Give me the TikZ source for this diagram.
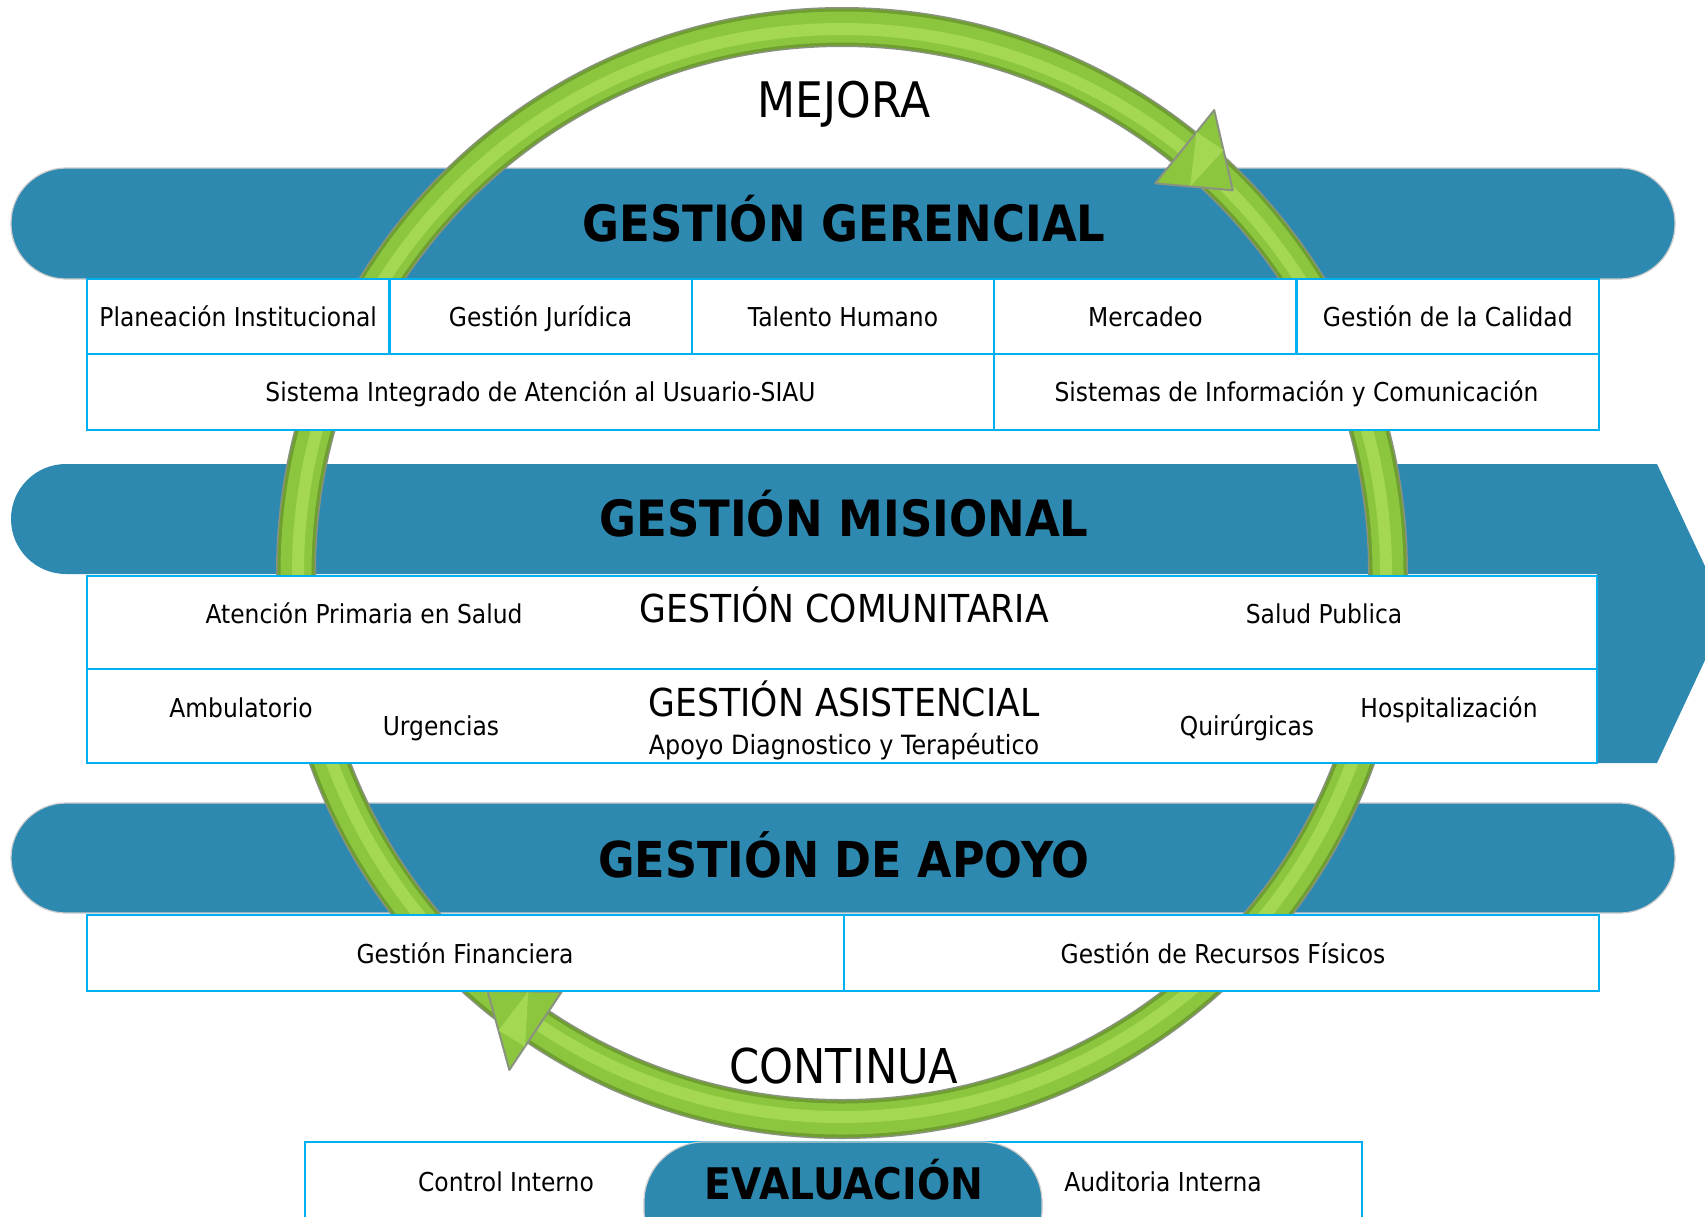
\documentclass[tikz,border=0pt]{standalone}
\usepackage{fontspec}
\setmainfont{DejaVu Sans}[FakeStretch=0.9]
\usetikzlibrary{calc}
\definecolor{bandblue}{HTML}{2E89B1}
\definecolor{linecyan}{HTML}{00B0F0}
\definecolor{ringgreen}{HTML}{8CC63F}
\definecolor{ringlight}{HTML}{A4D852}
\definecolor{ringdark}{HTML}{6F9F30}
\definecolor{ringedge}{HTML}{8A9280}
\begin{document}
\begin{tikzpicture}[x=1pt,y=-1pt,
  band/.style={fill=bandblue, draw=gray!40, line width=1.2pt},
  cellbox/.style={fill=white, draw=linecyan, line width=2.5pt},
  small/.style={font=\fontsize{26}{30}\selectfont, anchor=base, inner sep=0pt},
  title/.style={font=\fontsize{50}{56}\selectfont\bfseries, anchor=base, inner sep=0pt},
  big/.style={font=\fontsize{48}{54}\selectfont, anchor=base, inner sep=0pt},
  mid/.style={font=\fontsize{38.5}{42}\selectfont, anchor=base, inner sep=0pt},
  ahead/.style={fill=ringgreen, draw=ringedge, line width=2pt, line join=round},
  ahigh/.style={fill=ringlight}]
\useasboundingbox (0,0) rectangle (1705,1216);
\fill[white] (0,0) rectangle (1705,1216);
% bands
\draw[band, rounded corners=55] (11,168) rectangle (1675,279);
\fill[bandblue] (1657,464) -- (1727,613) -- (1657,763) -- (1597,763) -- (1597,574) -- (300,574) [rounded corners=55] -- (11,574) -- (11,464) -- (300,464) [sharp corners] -- cycle;
\draw[band, rounded corners=55] (11,803) rectangle (1675,913);
% ring
\coordinate (c) at (842,573);
\draw[ringedge, line width=40pt] (c) circle[radius=546pt];
\draw[ringdark, line width=37pt] (c) circle[radius=546pt];
\draw[ringgreen, line width=31pt] (c) circle[radius=546pt];
\draw[ringlight, line width=12pt] (c) circle[radius=544pt];
% arrowheads
\coordinate (ta) at ($(c)+(-51.2:594)$);
\coordinate (tb) at ($(c)+(-51.2:500)$);
\coordinate (tt) at ($(c)+(-44.4:547)$);
\draw[ahead] (ta) -- (tb) -- (tt) -- cycle;
\fill[ahigh] ($(ta)!0.5!(tt)$) -- ($(ta)!0.3!(tb)$) -- ($(tb)!0.45!(tt)$) -- cycle;
\coordinate (ba) at ($(c)+(-236.2:598)$);
\coordinate (bb) at ($(c)+(-236.2:504)$);
\coordinate (bt) at ($(c)+(-229.7:548)$);
\draw[ahead] (ba) -- (bb) -- (bt) -- cycle;
\fill[ahigh] ($(ba)!0.5!(bt)$) -- ($(ba)!0.3!(bb)$) -- ($(bb)!0.45!(bt)$) -- cycle;
% gerencial table
\foreach \i in {0,...,4}{\draw[cellbox] ({87+302.4*\i},279) rectangle ++(302.4,75);}
\draw[cellbox] (87,354) rectangle (994,430);
\draw[cellbox] (994,354) rectangle (1599,430);
% misional table
\draw[cellbox] (87,576) rectangle (1597,669);
\draw[cellbox] (87,669) rectangle (1597,763);
% apoyo table
\draw[cellbox] (87,915) rectangle (844,991);
\draw[cellbox] (844,915) rectangle (1599,991);
% evaluacion
\draw[cellbox] (305,1142) rectangle (1362,1250);
\draw[band, rounded corners=60] (644,1142) rectangle (1042,1270);
% texts
\node[big, font=\fontsize{49}{54}\selectfont] (mejora) at (844,117) {MEJORA};
\node[title] (tger) at (844,241) {GESTIÓN GERENCIAL};
\node[small] (c1) at (238.2,326) {Planeación Institucional};
\node[small] (c2) at (540.6,326) {Gestión Jurídica};
\node[small] (c3) at (843,326) {Talento Humano};
\node[small] (c4) at (1145.4,326) {Mercadeo};
\node[small] (c5) at (1447.8,326) {Gestión de la Calidad};
\node[small] (c6) at (540.5,401) {Sistema Integrado de Atención al Usuario-SIAU};
\node[small] (c7) at (1296.5,401) {Sistemas de Información y Comunicación};
\node[title] (tmis) at (844,536) {GESTIÓN MISIONAL};
\node[mid] (com) at (844,622) {GESTIÓN COMUNITARIA};
\node[small] (aps) at (364,623) {Atención Primaria en Salud};
\node[small] (sp) at (1324,623) {Salud Publica};
\node[small] (amb) at (241,717) {Ambulatorio};
\node[small] (urg) at (441,735) {Urgencias};
\node[mid] (asi) at (844,716) {GESTIÓN ASISTENCIAL};
\node[small, font=\fontsize{26.5}{30}\selectfont] (adt) at (844,754) {Apoyo Diagnostico y Terapéutico};
\node[small] (qui) at (1247,735) {Quirúrgicas};
\node[small] (hos) at (1449,717) {Hospitalización};
\node[title, font=\fontsize{49.5}{56}\selectfont\bfseries] (tapo) at (844,877) {GESTIÓN DE APOYO};
\node[small] (gf) at (465,963) {Gestión Financiera};
\node[small] (grf) at (1223,963) {Gestión de Recursos Físicos};
\node[big] (cont) at (844,1083) {CONTINUA};
\node[small] (ci) at (506,1191) {Control Interno};
\node[title, font=\fontsize{43.5}{48}\selectfont\bfseries] (eva) at (844,1199) {EVALUACIÓN};
\node[small] (ai) at (1163,1191) {Auditoria Interna};
\end{tikzpicture}
\end{document}
